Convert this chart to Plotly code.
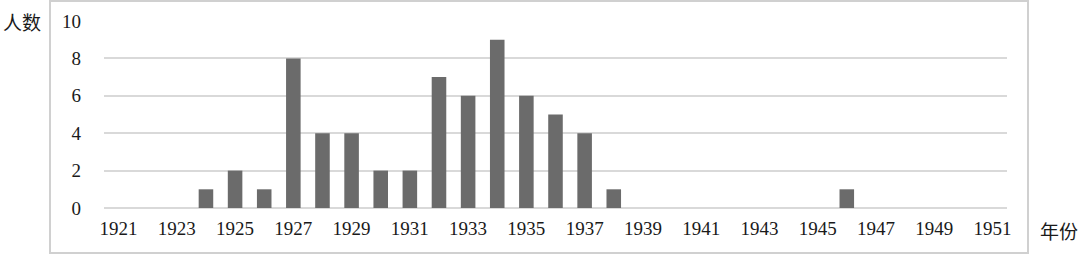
import plotly.graph_objects as go

years = [str(y) for y in range(1921, 1952)]
counts = [0, 0, 0, 1, 2, 1, 8, 4, 4, 2, 2, 7, 6, 9, 6, 5, 4, 1,
          0, 0, 0, 0, 0, 0, 0, 1, 0, 0, 0, 0, 0]
tick_labels = [str(y) for y in range(1921, 1952, 2)]
y_ticks = [0, 2, 4, 6, 8, 10]

L, R, T, B = 104, 73, 21, 48
W, H = 1080, 256
pw, ph = W - L - R, H - T - B
SERIF = "Liberation Serif"
CJK = "Noto Sans CJK SC"

def px(x):
    return (x - L) / pw

def py(y):
    return (H - B - y) / ph

fig = go.Figure(go.Bar(x=years, y=counts, marker=dict(color="#6b6b6b", line=dict(width=0))))

fig.update_layout(
    width=W, height=H,
    margin=dict(l=L, r=R, t=T, b=B),
    paper_bgcolor="white", plot_bgcolor="white",
    bargap=0.5,
    showlegend=False,
    font=dict(family=SERIF, size=19, color="#1a1a1a"),
    xaxis=dict(type="category", tickmode="array", tickvals=tick_labels, ticktext=tick_labels,
               showgrid=False, showline=False, ticks="", ticklabelstandoff=7,
               tickfont=dict(family=SERIF, size=19, color="#1a1a1a")),
    yaxis=dict(range=[0, 10], tickvals=y_ticks, showgrid=True, gridcolor="#d9d9d9", gridwidth=2,
               zeroline=True, zerolinecolor="#d9d9d9", zerolinewidth=2,
               ticks="", ticklabelstandoff=22,
               tickfont=dict(family=SERIF, size=19, color="#1a1a1a")),
    shapes=[dict(type="rect", xref="paper", yref="paper",
                 x0=px(50), x1=px(1028), y0=py(253), y1=py(1),
                 line=dict(color="#d0d0d0", width=2), fillcolor="rgba(0,0,0,0)", layer="below")],
    annotations=[
        dict(text="人数", xref="paper", yref="paper", x=px(22), y=py(21),
             xanchor="center", yanchor="middle", showarrow=False,
             font=dict(family=CJK, size=19, color="#1a1a1a")),
        dict(text="年份", xref="paper", yref="paper", x=px(1059), y=py(230),
             xanchor="center", yanchor="middle", showarrow=False,
             font=dict(family=CJK, size=19, color="#1a1a1a")),
    ],
)

fig.write_html("out.html")
